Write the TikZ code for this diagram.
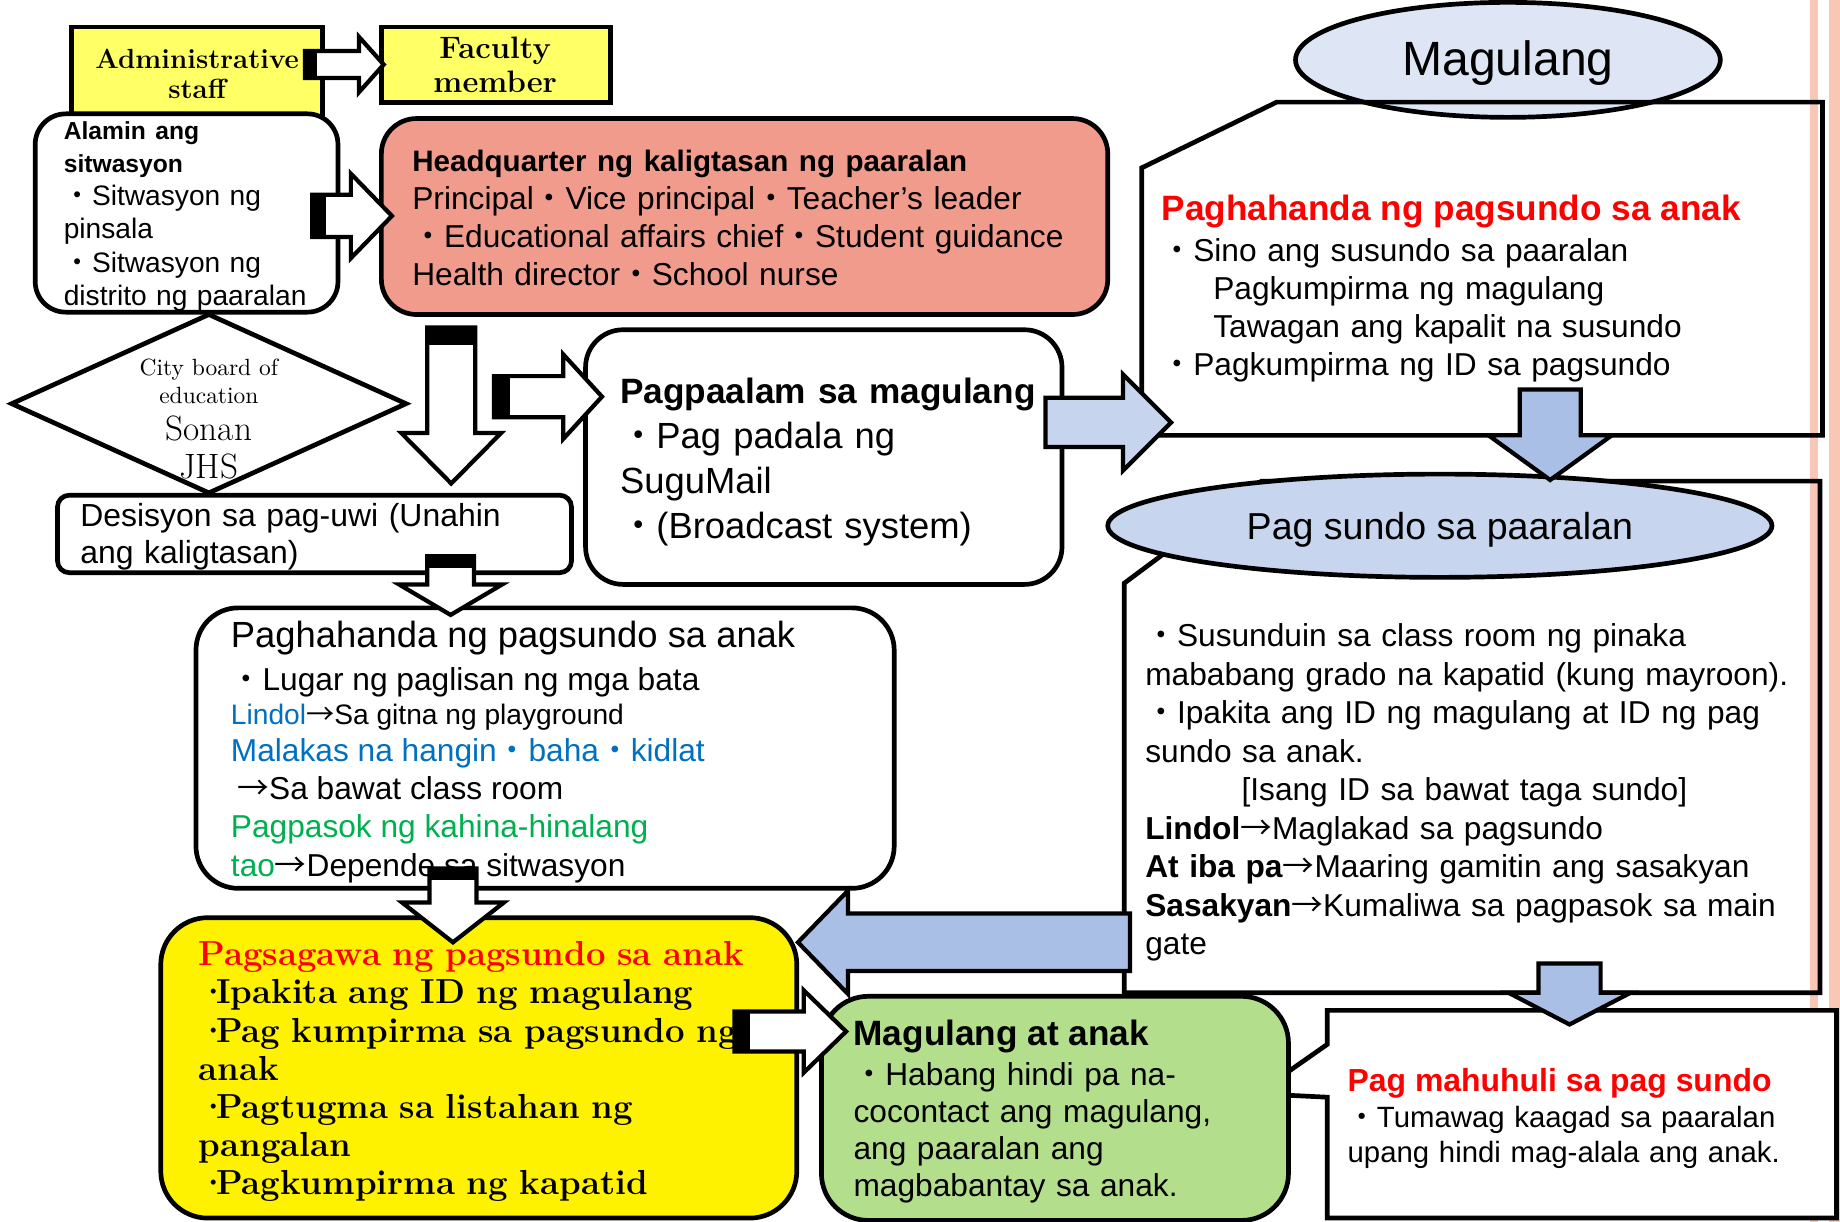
\documentclass[tikz,border=0pt]{standalone}
\usepackage{fontspec}
\usetikzlibrary{shapes.geometric}
\setmainfont{Liberation Sans}
\newfontfamily\lmr{Latin Modern Roman}
\newfontfamily\jp{Noto Sans CJK JP}
\definecolor{adminY}{HTML}{FFFF66}
\definecolor{salmon}{HTML}{F09B8C}
\definecolor{ellA}{HTML}{DEE6F5}
\definecolor{ellB}{HTML}{C8D5EE}
\definecolor{arrA}{HTML}{C6D4EE}
\definecolor{arrB}{HTML}{AABFE6}
\definecolor{grn}{HTML}{B3DE8C}
\definecolor{pinkS}{HTML}{F9C7B5}
\definecolor{tblue}{HTML}{0070C0}
\definecolor{tgreen}{HTML}{00B050}
\definecolor{tred}{HTML}{FF0000}
\newcommand\bu{{\jp ・}}
\newcommand\ar{{\jp →}}
\newcommand\dt{\leavevmode\hbox to 0.5em{\textperiodcentered\hss}}
% right block arrow: tail, tip, yc, shaft half, head half, head length, fill
\newcommand\Rarr[7]{\draw[arr,fill=#7] (#1,#3-#4) -- ({#2-#6},#3-#4) -- ({#2-#6},#3-#5) -- (#2,#3) -- ({#2-#6},#3+#5) -- ({#2-#6},#3+#4) -- (#1,#3+#4) -- cycle;}
% left block arrow
\newcommand\Larr[7]{\draw[arr,fill=#7] (#1,#3-#4) -- ({#2+#6},#3-#4) -- ({#2+#6},#3-#5) -- (#2,#3) -- ({#2+#6},#3+#5) -- ({#2+#6},#3+#4) -- (#1,#3+#4) -- cycle;}
% down block arrow: xc, top, tip, shaft half, head half, head length, fill
\newcommand\Darr[7]{\draw[arr,fill=#7] (#1-#4,#2) -- (#1-#4,{#3-#6}) -- (#1-#5,{#3-#6}) -- (#1,#3) -- (#1+#5,{#3-#6}) -- (#1+#4,{#3-#6}) -- (#1+#4,#2) -- cycle;}
\newcommand\Rtail[4]{\fill (#1,#3-#4-1) rectangle (#2,#3+#4+1);}
\newcommand\Dtail[4]{\fill (#1-#4-1,#2) rectangle (#1+#4+1,#3);}
\begin{document}
\begin{tikzpicture}[x=0.5pt,y=-0.5pt,
  bx/.style={draw=black,line width=2pt},
  arr/.style={draw=black,line width=1.8pt,line join=miter},
  tx/.style={anchor=base west,inner sep=0pt,align=left,text width=#1},
  tc/.style={anchor=base,inner sep=0pt,align=center,text width=#1},
  t1/.style={anchor=base west,inner sep=0pt}]
\useasboundingbox (0,0) rectangle (1568,1041);
\fill[white] (0,0) rectangle (1568,1041);
% pink strips at right
\fill[pinkS] (1542,0) rectangle (1549,1041);
\fill[pinkS] (1559,0) rectangle (1568,1041);

% ---------- right column ----------
\node[bx,ellipse,fill=ellA,minimum width=181pt,minimum height=49pt,inner sep=0pt] (magE) at (1285,51) {};
\draw[bx] (973,371) -- (973,143) -- (1088,87) -- (1553,87) -- (1553,371) -- cycle;
\draw[bx] (958,846) -- (958,497) -- (1075,410) -- (1551,410) -- (1551,846) -- cycle;
\node[bx,ellipse,fill=ellB,minimum width=283pt,minimum height=44pt,inner sep=0pt] (psE) at (1227,448) {};
\draw[bx,fill=white] (1131,861) -- (1565,861) -- (1565,1038) -- (1131,1038) -- (1131,935) -- (1071,932) -- (1131,890) -- cycle;

% ---------- left / middle boxes ----------
\draw[bx,fill=adminY] (61,23) rectangle (275,110);
\draw[bx,fill=adminY] (325,23) rectangle (520,87.5);
\draw[bx,fill=white,rounded corners=13pt] (30,97) rectangle (288,266);
\draw[bx,fill=salmon,rounded corners=15pt] (325,101) rectangle (944,268);
\draw[bx,fill=white] (10,344) -- (178,268) -- (346,344) -- (178,420) -- cycle;
\draw[bx,fill=white,rounded corners=5pt] (49,422) rectangle (487,488);
\draw[bx,fill=white,rounded corners=16pt] (499,281) rectangle (905,498);
\draw[bx,fill=white,rounded corners=18pt] (167,518) rectangle (762,757);
\draw[bx,fill=yellow,rounded corners=20pt] (137,782) rectangle (679,1038);
\draw[bx,fill=grn,rounded corners=20pt] (700,849) rectangle (1098,1040);

% ---------- texts ----------
\node[tc=115pt,font=\lmr\bfseries\fontsize{11.8}{13}\selectfont] (adm) at (168,58) {Administrative\\staff};
\node[tc=95pt,font=\lmr\bfseries\fontsize{13.2}{14.5}\selectfont] (fac) at (422,50) {Faculty\\member};
\node[tx=130pt,font=\fontsize{12}{14.1}\selectfont] (ala) at (54,119)
  {{\bfseries\fontsize{10.5}{14.1}\selectfont Alamin ang\\sitwasyon}\\\bu Sitwasyon ng\\pinsala\\\bu Sitwasyon ng\\distrito ng paaralan};
\node[tx=310pt,font=\fontsize{13.5}{16.15}\selectfont] (hqt) at (351,146)
  {{\bfseries\fontsize{12.6}{16.15}\selectfont Headquarter ng kaligtasan ng paaralan}\\Principal\bu Vice principal\bu Teacher’s leader\\\bu Educational affairs chief\bu Student guidance\\Health director\bu School nurse};
\node[tc=80pt,font=\lmr\fontsize{10}{12.2}\selectfont] (cb) at (178,319.6) {City board of\\education};
\node[tc=60pt,font=\lmr\fontsize{15}{16.25}\selectfont] (sj) at (178,375) {Sonan\\JHS};
\node[tx=215pt,font=\fontsize{13.6}{15.5}\selectfont] (des) at (68,449) {Desisyon sa pag-uwi (Unahin\\ang kaligtasan)};
\node[tx=190pt,font=\fontsize{15.5}{19.15}\selectfont] (pp) at (528,344)
  {{\bfseries\fontsize{15}{19.15}\selectfont Pagpaalam sa magulang}\\\bu Pag padala ng\\SuguMail\\\bu (Broadcast system)};
\node[t1,text=tred,font=\bfseries\fontsize{15}{18}\selectfont] (mr) at (989.5,187.5) {Paghahanda ng pagsundo sa anak};
\node[tx=260pt,font=\fontsize{13.5}{16.2}\selectfont] (ml) at (989.5,223)
  {\bu Sino ang susundo sa paaralan\\\hspace*{22pt}Pagkumpirma ng magulang\\\hspace*{22pt}Tawagan ang kapalit na susundo\\\bu Pagkumpirma ng ID sa pagsundo};
\node[anchor=base,inner sep=0pt,font=\fontsize{20.5}{24}\selectfont] (magt) at (1285,64) {Magulang};
\node[anchor=base,inner sep=0pt,font=\fontsize{16}{19}\selectfont] (pst) at (1227,459.5) {Pag sundo sa paaralan};
\node[tx=290pt,font=\fontsize{13.5}{16.4}\selectfont] (psb) at (975.6,551)
  {\bu Susunduin sa class room ng pinaka\\mababang grado na kapatid (kung mayroon).\\\bu Ipakita ang ID ng magulang at ID ng pag\\sundo sa anak.\\\hspace*{41pt}[Isang ID sa bawat taga sundo]\\\textbf{Lindol}\ar Maglakad sa pagsundo\\\textbf{At iba pa}\ar Maaring gamitin ang sasakyan\\\textbf{Sasakyan}\ar Kumaliwa sa pagpasok sa main\\gate};
\node[t1,font=\fontsize{15.5}{18}\selectfont] (p1) at (196.4,552) {Paghahanda ng pagsundo sa anak};
\node[t1,font=\fontsize{13.5}{16}\selectfont] (p2) at (196.4,588) {\bu Lugar ng paglisan ng mga bata};
\node[t1,font=\fontsize{12}{14}\selectfont] (p3) at (196.4,617) {{\color{tblue}Lindol}\ar Sa gitna ng playground};
\node[t1,text=tblue,font=\fontsize{13.5}{16}\selectfont] (p4) at (196.4,649) {Malakas na hangin\bu baha\bu kidlat};
\node[t1,font=\fontsize{13.5}{16}\selectfont] (p5) at (202,681.7) {\ar Sa bawat class room};
\node[t1,text=tgreen,font=\fontsize{13.5}{16}\selectfont] (p6) at (196.4,714) {Pagpasok ng kahina-hinalang};
\node[t1,font=\fontsize{13.5}{16}\selectfont] (p7) at (196.4,747) {{\color{tgreen}tao}\ar Depende sa sitwasyon};
\node[tx=265pt,font=\lmr\bfseries\fontsize{14.8}{16.25}\selectfont] (yl) at (169,823)
  {{\color{tred}Pagsagawa ng pagsundo sa anak}\\\dt Ipakita ang ID ng magulang\\\dt Pag kumpirma sa pagsundo ng\\anak\\\dt Pagtugma sa listahan ng\\pangalan\\\dt Pagkumpirma ng kapatid};
\node[t1,font=\bfseries\fontsize{15}{18}\selectfont] (gt) at (727,890.5) {Magulang at anak};
\node[tx=190pt,font=\fontsize{13.5}{15.85}\selectfont] (gl) at (727,924.6)
  {\bu Habang hindi pa na-\\cocontact ang magulang,\\ang paaralan ang\\magbabantay sa anak.};
\node[t1,text=tred,font=\bfseries\fontsize{13.6}{16}\selectfont] (lt) at (1148,930) {Pag mahuhuli sa pag sundo};
\node[tx=200pt,font=\fontsize{12.5}{15}\selectfont] (ll) at (1148,961) {\bu Tumawag kaagad sa paaralan\\upang hindi mag-alala ang anak.};

% ---------- block arrows ----------
\Rarr{260}{327}{55}{11.5}{23.5}{21}{white}   \Rtail{260}{270}{55}{11.5}
\Rarr{266}{334}{184}{18}{36}{35}{white}      \Rtail{266}{278}{184}{18}
\Darr{384.5}{279}{412}{20.5}{42.5}{43}{white} \Dtail{384.5}{279}{294}{20.5}
\Rarr{421}{513}{338}{17.5}{36}{33}{white}    \Rtail{421}{435}{338}{17.5}
\Darr{384}{474}{524}{20}{44}{26}{white}      \Dtail{384}{474}{484}{20}
\Darr{386}{740}{803}{20}{43.5}{34}{white}    \Dtail{386}{740}{750}{20}
\Rarr{626}{721}{879}{17}{35}{36}{white}      \Rtail{626}{639}{879}{17}
\Rarr{891}{998}{360}{21}{41}{41}{arrA}
\Darr{1321}{332}{409}{26}{52.5}{38}{arrB}
\Larr{963}{680}{803}{24.5}{44}{42.6}{arrB}
\Darr{1337.5}{821}{873}{26.5}{52}{27}{arrB}
\end{tikzpicture}
\end{document}
